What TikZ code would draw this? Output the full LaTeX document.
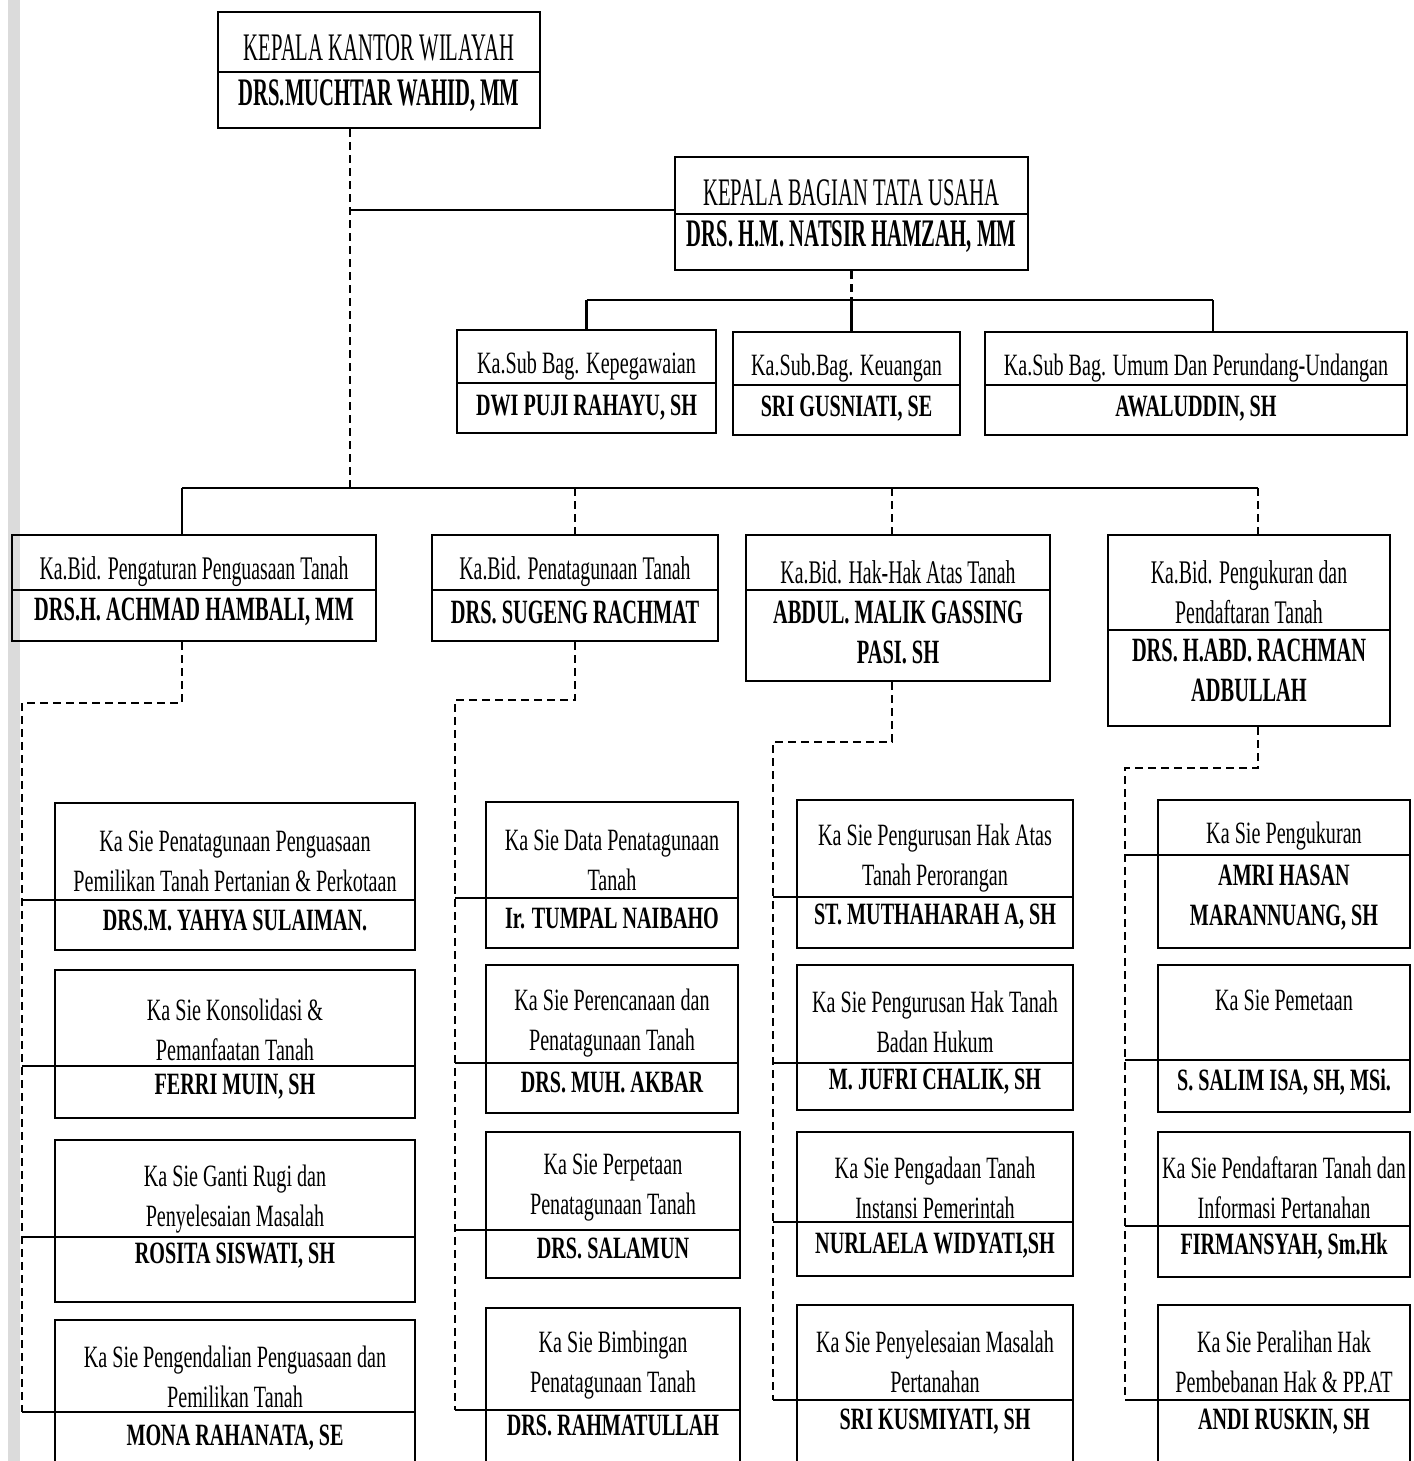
\documentclass[tikz,border=0pt]{standalone}
\usepackage{fontspec}
\setmainfont{Liberation Serif}[FakeStretch=0.65]
\newfontfamily\bigf{Liberation Serif}[FakeStretch=0.53]
\newfontfamily\midf{Liberation Serif}[FakeStretch=0.6]
\usetikzlibrary{fit,calc}
\tikzset{
  conn/.style={line width=1.1pt, draw=black},
  dconn/.style={conn, dash pattern=on 4pt off 2.5pt},
  boxst/.style={draw=black, line width=1.1pt, inner sep=0pt, rectangle},
  txtbase/.style={align=center, inner sep=0pt, text=black},
  ttl/.style={txtbase, font=\fontsize{15.5}{20}\selectfont},
  nm/.style={txtbase, font=\bfseries\fontsize{15.5}{20}\selectfont},
  bigttl/.style={txtbase, font=\bigf\fontsize{19.5}{22}\selectfont},
  bignm/.style={txtbase, font=\bigf\bfseries\fontsize{19.5}{22}\selectfont},
  midttl/.style={txtbase, font=\midf\fontsize{16.5}{20}\selectfont},
  midnm/.style={txtbase, font=\midf\bfseries\fontsize{17}{20}\selectfont}
}
\newcommand\obox[6]{%
  \node[boxst, fit={(#2,#3) (#4,#5)}] (#1) {};
  \draw[conn] (#2,#6) -- (#4,#6);}
\newcommand\otxt[5]{%
  \node[ttl] (#1t) at (#1.center |- 0,#2) {#3};
  \node[nm] (#1n) at (#1.center |- 0,#4) {#5};}
\begin{document}
\begin{tikzpicture}[x=0.5pt,y=-0.5pt]
\useasboundingbox (0,0) rectangle (1413,1461);
\clip (0,0) rectangle (1413,1461);
\fill[white] (0,0) rectangle (1413,1461);
\fill[gray!28] (8,0) rectangle (20,1461);

% top level
\begin{scope}[ttl/.style={bigttl}, nm/.style={bignm}]
\obox{A}{218}{12}{540}{128}{72}
\otxt{A}{48}{KEPALA KANTOR WILAYAH}{96}{DRS.MUCHTAR WAHID, MM}
\obox{B}{675}{157}{1028}{270}{214}
\otxt{B}{193}{KEPALA BAGIAN TATA USAHA}{237}{DRS. H.M. NATSIR HAMZAH, MM}
\end{scope}

\obox{C}{457}{330}{716}{433}{383}
\otxt{C}{366}{Ka.Sub Bag. Kepegawaian}{408}{DWI PUJI RAHAYU, SH}
\obox{D}{733}{332}{960}{435}{385}
\otxt{D}{368}{Ka.Sub.Bag. Keuangan}{409}{SRI GUSNIATI, SE}
\obox{E}{985}{332}{1407}{435}{385}
\otxt{E}{368}{Ka.Sub Bag. Umum Dan Perundang-Undangan}{409}{AWALUDDIN, SH}

\begin{scope}[ttl/.style={midttl}, nm/.style={midnm}]
\obox{F}{12}{535}{376}{641}{590}
\otxt{F}{572}{Ka.Bid. Pengaturan Penguasaan Tanah}{612}{DRS.H. ACHMAD HAMBALI, MM}
\obox{G}{432}{535}{718}{641}{590}
\otxt{G}{572}{Ka.Bid. Penatagunaan Tanah}{612}{DRS. SUGENG RACHMAT}
\obox{H}{746}{535}{1050}{681}{590}
\otxt{H}{572}{Ka.Bid. Hak-Hak Atas Tanah}{632}{ABDUL. MALIK GASSING\\PASI. SH}
\obox{I}{1108}{535}{1390}{726}{630}
\otxt{I}{592}{Ka.Bid. Pengukuran dan\\Pendaftaran Tanah}{670}{DRS. H.ABD. RACHMAN\\ADBULLAH}
\end{scope}

% column 1
\obox{S11}{55}{803}{415}{950}{900}
\otxt{S11}{861}{Ka Sie Penatagunaan Penguasaan\\Pemilikan Tanah Pertanian \& Perkotaan}{920}{DRS.M. YAHYA SULAIMAN.}
\obox{S12}{55}{970}{415}{1118}{1066}
\otxt{S12}{1030}{Ka Sie Konsolidasi \&\\Pemanfaatan Tanah}{1087}{FERRI MUIN, SH}
\obox{S13}{55}{1140}{415}{1302}{1237}
\otxt{S13}{1199}{Ka Sie Ganti Rugi dan\\Penyelesaian Masalah}{1256}{ROSITA SISWATI, SH}
\obox{S14}{55}{1320}{415}{1490}{1412}
\otxt{S14}{1377}{Ka Sie Pengendalian Penguasaan dan\\Pemilikan Tanah}{1438}{MONA RAHANATA, SE}

% column 2
\obox{S21}{486}{802}{738}{948}{898}
\otxt{S21}{860}{Ka Sie Data Penatagunaan\\Tanah}{918}{Ir. TUMPAL NAIBAHO}
\obox{S22}{486}{965}{738}{1113}{1063}
\otxt{S22}{1023}{Ka Sie Perencanaan dan\\Penatagunaan Tanah}{1082}{DRS. MUH. AKBAR}
\obox{S23}{486}{1132}{740}{1278}{1230}
\otxt{S23}{1188}{Ka Sie Perpetaan\\Penatagunaan Tanah}{1248}{DRS. SALAMUN}
\obox{S24}{486}{1308}{740}{1490}{1410}
\otxt{S24}{1365}{Ka Sie Bimbingan\\Penatagunaan Tanah}{1425}{DRS. RAHMATULLAH}

% column 3
\obox{S31}{797}{800}{1073}{948}{897}
\otxt{S31}{858}{Ka Sie Pengurusan Hak Atas\\Tanah Perorangan}{917}{ST. MUTHAHARAH A, SH}
\obox{S32}{797}{965}{1073}{1110}{1063}
\otxt{S32}{1022}{Ka Sie Pengurusan Hak Tanah\\Badan Hukum}{1082}{M. JUFRI CHALIK, SH}
\obox{S33}{797}{1132}{1073}{1276}{1222}
\otxt{S33}{1188}{Ka Sie Pengadaan Tanah\\Instansi Pemerintah}{1246}{NURLAELA WIDYATI,SH}
\obox{S34}{797}{1305}{1073}{1490}{1400}
\otxt{S34}{1362}{Ka Sie Penyelesaian Masalah\\Pertanahan}{1422}{SRI KUSMIYATI, SH}

% column 4
\obox{S41}{1158}{800}{1410}{948}{855}
\otxt{S41}{836}{Ka Sie Pengukuran}{898}{AMRI HASAN\\MARANNUANG, SH}
\obox{S42}{1158}{965}{1410}{1112}{1060}
\otxt{S42}{1000}{Ka Sie Pemetaan}{1082}{S. SALIM ISA, SH, MSi.}
\obox{S43}{1158}{1132}{1410}{1277}{1226}
\otxt{S43}{1188}{Ka Sie Pendaftaran Tanah dan\\Informasi Pertanahan}{1246}{FIRMANSYAH, Sm.Hk}
\obox{S44}{1158}{1305}{1410}{1490}{1400}
\otxt{S44}{1362}{Ka Sie Peralihan Hak\\Pembebanan Hak \& PP.AT}{1422}{ANDI RUSKIN, SH}

% upper connectors
\coordinate (jA) at (350,210);
\coordinate (bL) at (182,488);
\coordinate (sb) at (851,300);
\coordinate (sbE) at (1213,300);
\coordinate (dH) at (892,488);
\coordinate (dI) at (1258,488);
\draw[dconn] (A.south -| jA) -- (bL -| jA);
\draw[conn] (jA) -- (B.west |- jA);
\draw[dconn] (B.south) -- (B.south |- sb);
\draw[conn] (C.north |- sb) -- (sbE);
\draw[conn] (C.north |- sb) -- (C.north);
\draw[conn] (B.south |- sb) -- (B.south |- D.north);
\draw[conn] (sbE) -- (sbE |- E.north);

% lower bus
\draw[conn] (bL) -- (dI);
\draw[conn] (bL) -- (bL |- F.north);
\draw[dconn] (G.north |- bL) -- (G.north);
\draw[dconn] (dH) -- (dH |- H.north);
\draw[dconn] (dI) -- (dI |- I.north);

% column buses
\coordinate (c1) at (22,703);
\coordinate (c2) at (455,700);
\coordinate (c3) at (773,742);
\coordinate (c4) at (1125,768);
\draw[dconn] (F.south -| bL) |- (c1) -- (c1 |- 0,1412);
\draw[dconn] (G.south) |- (c2) -- (c2 |- 0,1410);
\draw[dconn] (H.south -| dH) |- (c3) -- (c3 |- 0,1400);
\draw[dconn] (I.south -| dI) |- (c4) -- (c4 |- 0,1400);
\foreach \s/\yy in {S11/900,S12/1066,S13/1237,S14/1412}
  \draw[conn] (c1 |- 0,\yy) -- (\s.west |- 0,\yy);
\foreach \s/\yy in {S21/898,S22/1063,S23/1230,S24/1410}
  \draw[conn] (c2 |- 0,\yy) -- (\s.west |- 0,\yy);
\foreach \s/\yy in {S31/897,S32/1063,S33/1222,S34/1400}
  \draw[conn] (c3 |- 0,\yy) -- (\s.west |- 0,\yy);
\foreach \s/\yy in {S41/855,S42/1060,S43/1226,S44/1400}
  \draw[conn] (c4 |- 0,\yy) -- (\s.west |- 0,\yy);
\end{tikzpicture}
\end{document}
